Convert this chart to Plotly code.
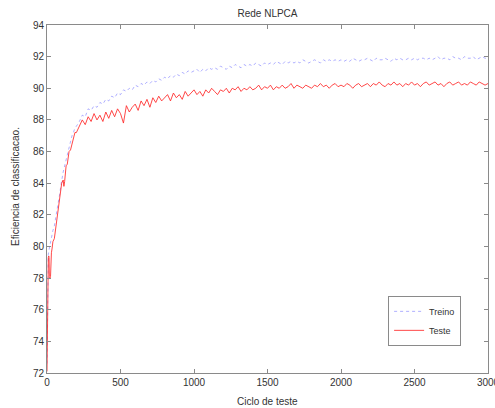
import plotly.graph_objects as go

# ---- data ----
x_early = [0, 2, 4, 6, 9, 12, 14, 16, 20, 24, 27, 30, 35, 40, 50, 60, 70, 80, 88, 95,
           100, 110, 115, 120, 125, 130, 138, 145, 150, 160, 170, 180, 190]
x_late = list(range(200, 3001, 20))
ciclo = x_early + x_late

teste_early = [72.1, 74.5, 77.0, 78.5, 79.3, 79.4, 79.3, 78.1, 78.0, 78.1, 79.5, 79.6, 79.9,
               80.3, 80.5, 81.2, 81.9, 82.6, 82.9, 83.4, 84.0, 84.2, 83.8, 84.1, 84.9, 85.1,
               85.2, 85.6, 86.0, 86.1, 86.5, 86.8, 87.2]
teste_late = [
    87.2, 87.6, 88.0, 87.7, 88.2, 87.9, 88.4, 88.0, 88.3, 87.9,
    88.5, 88.1, 88.6, 88.2, 88.7, 88.4, 87.8, 88.9, 88.5, 88.8,
    89.0, 88.6, 89.2, 88.9, 89.3, 88.8, 89.4, 89.1, 89.5, 89.2,
    89.4, 89.6, 89.2, 89.7, 89.4, 89.6, 89.3, 89.8, 89.5, 89.7,
    89.9, 89.6, 89.8, 89.5, 89.9, 89.7, 90.0, 89.8, 89.6, 89.9,
    89.8, 90.0, 89.7, 90.0, 89.9, 90.1, 89.8, 90.0, 89.9, 90.1,
    89.9, 90.0, 90.2, 89.9, 90.1, 90.0, 90.2, 89.9, 90.1, 90.0,
    90.2, 90.0, 90.1, 90.3, 90.0, 90.2, 90.1, 90.0, 90.2, 90.1,
    90.0, 90.2, 90.1, 90.3, 90.1, 90.2, 90.0, 90.2, 90.3, 90.1,
    90.2, 90.1, 90.3, 90.2, 90.0, 90.2, 90.3, 90.1, 90.2, 90.3,
    90.1, 90.3, 90.2, 90.4, 90.2, 90.1, 90.3, 90.2, 90.4, 90.2,
    90.3, 90.1, 90.3, 90.2, 90.4, 90.2, 90.3, 90.1, 90.3, 90.4,
    90.2, 90.3, 90.4, 90.2, 90.3, 90.1, 90.3, 90.4, 90.2, 90.3,
    90.4, 90.2, 90.3, 90.2, 90.4, 90.3, 90.2, 90.4, 90.3, 90.2,
    90.3]
teste = teste_early + teste_late

treino_early = [72.6, 75.0, 77.5, 78.8, 79.5, 79.7, 79.8, 80.0, 80.1, 80.3, 80.4, 80.6, 80.8,
                81.0, 81.3, 81.8, 82.4, 83.0, 83.4, 83.9, 84.3, 84.7, 84.9, 85.1, 85.4, 85.6,
                85.9, 86.2, 86.4, 86.7, 87.0, 87.2, 87.5]
treino_late = [
    87.6, 87.9, 88.3, 88.2, 88.7, 88.6, 88.9, 88.8, 89.1, 89.0,
    89.3, 89.2, 89.5, 89.4, 89.7, 89.6, 89.9, 89.8, 90.0, 89.9,
    90.2, 90.1, 90.3, 90.2, 90.4, 90.3, 90.5, 90.4, 90.6, 90.5,
    90.7, 90.6, 90.8, 90.7, 90.9, 90.8, 91.0, 90.9, 91.1, 91.0,
    91.1, 91.2, 91.0, 91.2, 91.1, 91.3, 91.2, 91.3, 91.2, 91.4,
    91.3, 91.2, 91.4, 91.3, 91.5, 91.4, 91.3, 91.5, 91.4, 91.5,
    91.4, 91.6, 91.5, 91.4, 91.6, 91.5, 91.6, 91.5, 91.7, 91.6,
    91.5, 91.7, 91.6, 91.7, 91.6, 91.7, 91.6, 91.8, 91.7, 91.6,
    91.7, 91.8, 91.7, 91.6, 91.8, 91.7, 91.8, 91.7, 91.8, 91.7,
    91.8, 91.7, 91.8, 91.7, 91.9, 91.8, 91.7, 91.8, 91.8, 91.9,
    91.8, 91.7, 91.9, 91.8, 91.8, 91.9, 91.8, 91.7, 91.9, 91.8,
    91.9, 91.8, 91.8, 91.9, 91.8, 91.9, 91.8, 91.9, 91.9, 91.8,
    91.9, 91.8, 91.9, 92.0, 91.8, 91.9, 91.9, 91.8, 92.0, 91.9,
    91.9, 91.8, 92.0, 91.9, 91.9, 92.0, 91.8, 91.9, 92.0, 91.9,
    91.9]
treino = treino_early + treino_late

x_ticks = [0, 500, 1000, 1500, 2000, 2500, 3000]
y_ticks = [72, 74, 76, 78, 80, 82, 84, 86, 88, 90, 92, 94]

W, H = 495, 408
L, R, T, B = 47, 7, 25, 35
FONT = "Liberation Sans, Arial, sans-serif"
TXT = "#333333"
AX = "#8a8a8a"

fig = go.Figure()
fig.add_trace(go.Scatter(x=ciclo, y=treino, mode="lines", name="Treino",
                         line=dict(color="rgba(110,110,255,0.55)", width=1, dash="dot")))
fig.add_trace(go.Scatter(x=ciclo, y=teste, mode="lines", name="Teste",
                         line=dict(color="rgba(255,40,40,0.85)", width=1)))

axis_common = dict(showline=True, linecolor=AX, linewidth=1, mirror="ticks",
                   ticks="inside", ticklen=4, tickcolor=AX, showgrid=False, zeroline=False,
                   ticklabeloverflow="allow", automargin=False,
                   tickfont=dict(family=FONT, size=10, color=TXT))

fig.update_layout(
    width=W, height=H,
    margin=dict(l=L, r=R, t=T, b=B),
    paper_bgcolor="white", plot_bgcolor="white",
    font=dict(family=FONT, size=10, color=TXT),
    xaxis=dict(range=[0, 3000], tickvals=x_ticks, **axis_common),
    yaxis=dict(range=[72, 94], tickvals=y_ticks, **axis_common),
    showlegend=True,
    legend=dict(x=0.939, y=0.078, xanchor="right", yanchor="bottom",
                bgcolor="white", bordercolor=AX, borderwidth=1,
                font=dict(family=FONT, size=9, color=TXT),
                tracegroupgap=0, itemwidth=30),
    title=dict(text="Rede NLPCA", x=(L + (W - L - R) / 2) / W, xanchor="center",
               y=1 - 13 / H, yanchor="middle", font=dict(family=FONT, size=10, color=TXT)),
    annotations=[
        dict(text="Ciclo de teste", xref="paper", yref="paper", x=0.5,
             y=-(401 - 373) / (H - T - B), xanchor="center", yanchor="middle",
             showarrow=False, font=dict(family=FONT, size=10, color=TXT)),
        dict(text="Eficiencia de classificacao.", xref="paper", yref="paper",
             x=-(L - 15) / (W - L - R), y=(373 - 187) / (H - T - B),
             xanchor="center", yanchor="middle", textangle=-90,
             showarrow=False, font=dict(family=FONT, size=10, color=TXT)),
    ],
)

fig.write_html("out.html")
